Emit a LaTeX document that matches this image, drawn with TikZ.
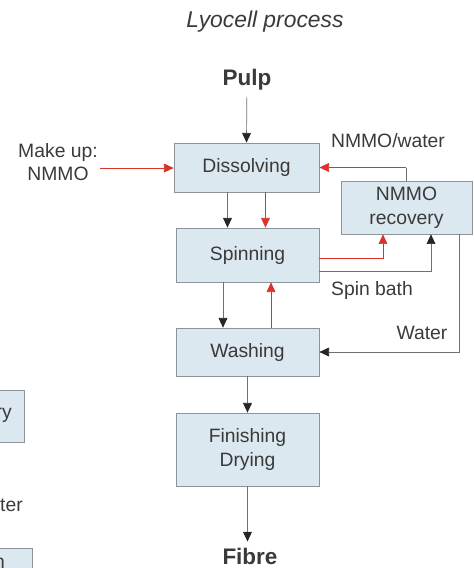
\documentclass[tikz,border=0pt]{standalone}
\usepackage{fontspec}
\setmainfont{Liberation Sans}
\usepackage{tikz}
\usetikzlibrary{arrows.meta, positioning, calc}
\definecolor{boxfill}{HTML}{DCE8F0}
\definecolor{boxline}{HTML}{8C9499}
\definecolor{txtgray}{HTML}{3A3A3A}
\definecolor{linegray}{HTML}{707070}
\definecolor{flowred}{HTML}{D9342B}

\begin{document}
\begin{tikzpicture}[
    procbox/.style={draw=boxline, fill=boxfill, minimum width=2.86cm, minimum height=1cm,
                    align=center, font=\fontsize{11}{13.5}\selectfont, text=txtgray},
    lbl/.style={font=\fontsize{11}{13.5}\selectfont, text=txtgray, align=center},
    endlbl/.style={font=\fontsize{12.8}{15}\selectfont\bfseries, text=txtgray},
    flow/.style={-{Triangle[length=5.5pt, width=5pt, color=black!85]}, linegray, thin},
    redflow/.style={-{Triangle[length=5.5pt, width=5pt, color=flowred]}, flowred, thin},
]
    \useasboundingbox (0,0) rectangle (9.48,-11.36);

    % title and ends
    \node[font=\fontsize{13}{15}\selectfont\itshape, text=txtgray] (title) at (5.30,-0.44) {Lyocell process};
    \node[endlbl] (pulp) at (4.94,-1.60) {Pulp};
    \node[endlbl] (fibre) at (5.00,-11.12) {Fibre};

    % process steps
    \node[procbox, minimum width=2.9cm, minimum height=0.98cm] (diss) at (4.93,-3.35) {Dissolving};
    \node[procbox, minimum height=1.08cm] (spin) at (4.95,-5.10) {Spinning};
    \node[procbox, minimum height=0.96cm] (wash) at (4.95,-7.04) {Washing};
    \node[procbox, minimum height=1.46cm] (fin) at (4.95,-8.99) {Finishing\\Drying};
    \node[procbox, minimum width=2.62cm, minimum height=1.02cm] (rec) at (8.13,-4.15) {NMMO\\recovery};

    % labels
    \node[lbl] (makeup) at (1.16,-3.24) {Make up:\\NMMO};
    \node[lbl] (nmmowat) at (7.76,-2.82) {NMMO/water};
    \node[lbl] (spinbath) at (7.44,-5.80) {Spin bath};
    \node[lbl] (water) at (8.44,-6.66) {Water};
    \coordinate (mkup) at (2.0,-3.36);

    % main line
    \draw[flow] (pulp) -- (diss.north);
    \draw[flow] ([xshift=-0.38cm]diss.south) -- ([xshift=-0.38cm]diss.south |- spin.north);
    \draw[redflow] ([xshift=0.38cm]diss.south) -- ([xshift=0.38cm]diss.south |- spin.north);
    \draw[flow] ([xshift=-0.49cm]spin.south) -- ([xshift=-0.49cm]spin.south |- wash.north);
    \draw[redflow] ([xshift=0.47cm]wash.north) -- ([xshift=0.47cm]wash.north |- spin.south);
    \draw[flow] (wash) -- (fin);
    \draw[flow] (fin.south) -- (fin.south |- fibre.north);

    % make up and recovery loops
    \draw[redflow] (mkup) -- (mkup -| diss.west);
    \draw[linegray, thin] (rec.north) -- (rec.north |- diss.east);
    \draw[redflow] (rec.north |- diss.east) -- (diss.east);
    \draw[redflow] ([yshift=-0.06cm]spin.east) -| ([xshift=-0.47cm]rec.south);
    \draw[flow] ([yshift=-0.33cm]spin.east) -| ([xshift=0.49cm]rec.south);
    \draw[flow] ([xshift=1.05cm]rec.south) |- (wash.east);

    % cut-off parts at the left edge
    \begin{scope}
        \clip (0,0) rectangle (9.48,-11.36);
        \node[procbox, minimum width=2.62cm, minimum height=1.04cm, anchor=east] (oldrec) at (0.5,-8.32) {};
        \node[lbl, anchor=east] (oldreclbl) at (0.36,-8.30) {recovery};
        \node[lbl, anchor=east] (oldwater) at (0.58,-10.10) {Water};
        \node[procbox, minimum width=2.62cm, minimum height=1.04cm, anchor=north east] (oldbox) at (0.66,-10.96) {};
        \node[lbl, anchor=east] (oldboxlbl) at (0.22,-11.26) {n};
    \end{scope}
\end{tikzpicture}
\end{document}
